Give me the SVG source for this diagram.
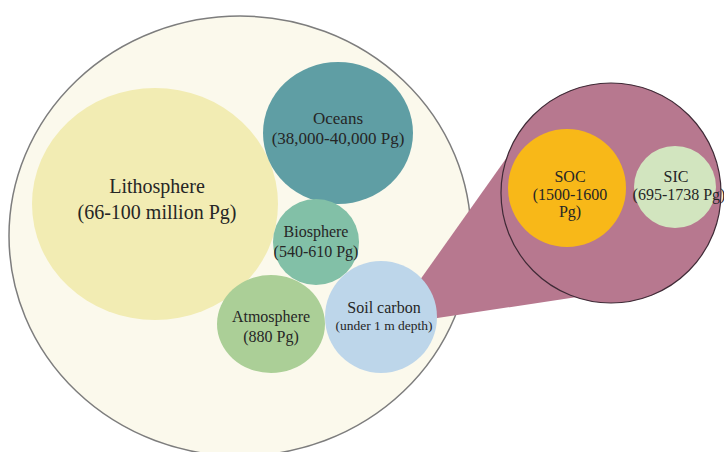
<svg xmlns="http://www.w3.org/2000/svg" width="724" height="452" viewBox="0 0 724 452">
<style>
text{font-family:"Liberation Serif","Times New Roman",serif;fill:#262626;text-anchor:middle}
.l{font-size:20px}
.m{font-size:16px}
.o{font-size:17px}
.s{font-size:13.5px}
</style>
<rect width="724" height="452" fill="#ffffff"/>
<g id="earth"><ellipse cx="240" cy="236" rx="231" ry="220" fill="#fbf9ec" stroke="#7d7d7d" stroke-width="1.5"/></g>
<g id="connectors"><polygon points="410,294 520,139 611,193 610,292 411,322" fill="#b7788f"/></g>
<g id="lithosphere"><ellipse cx="155" cy="204" rx="123" ry="116" fill="#f2ecb3"/>
<text class="l" x="157" y="193">Lithosphere</text><text class="l" x="157" y="219">(66-100 million Pg)</text></g>
<g id="oceans"><ellipse cx="338" cy="133" rx="75" ry="71" fill="#5f9ea4"/>
<text class="o" x="338" y="124">Oceans</text><text class="o" x="338" y="144">(38,000-40,000 Pg)</text></g>
<g id="biosphere"><circle cx="316" cy="242" r="43" fill="#82c0a7"/>
<text class="m" x="316" y="237">Biosphere</text><text class="m" x="316" y="257">(540-610 Pg)</text></g>
<g id="atmosphere"><ellipse cx="271" cy="324" rx="54" ry="49" fill="#abcf97"/>
<text class="m" x="271" y="322">Atmosphere</text><text class="m" x="271" y="342">(880 Pg)</text></g>
<g id="soil"><circle cx="381" cy="317" r="56" fill="#bdd6ea"/>
<text class="m" x="384" y="313">Soil carbon</text><text class="s" x="384" y="330">(under 1 m depth)</text></g>
<g id="soil-zoom"><circle cx="611" cy="193" r="110" fill="#b7788f" stroke="#3f2a36" stroke-width="1.2"/></g>
<g id="soc"><circle cx="567" cy="188" r="59" fill="#f8b818"/>
<text class="m" x="570" y="182">SOC</text><text class="m" x="570" y="200">(1500-1600</text><text class="m" x="570" y="217">Pg)</text></g>
<g id="sic"><circle cx="675" cy="187" r="41" fill="#d2e5bf"/>
<text class="m" x="676" y="182">SIC</text><text class="m" x="679" y="200">(695-1738 Pg)</text></g>
</svg>
